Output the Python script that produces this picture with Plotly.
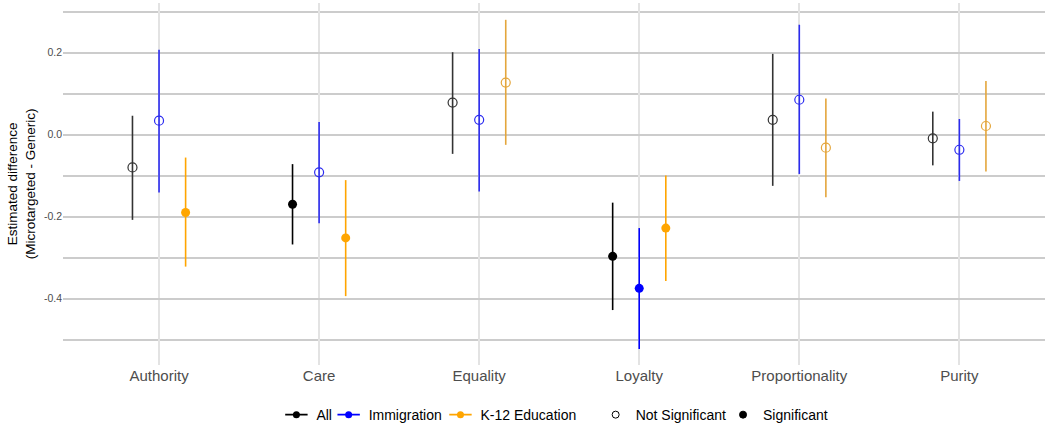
import plotly.graph_objects as go

categories = ["Authority", "Care", "Equality", "Loyalty", "Proportionality", "Purity"]
series = ["All", "Immigration", "K-12 Education"]

est_all = [-0.080, -0.170, 0.078, -0.297, 0.036, -0.009]
lo_all = [-0.208, -0.268, -0.047, -0.428, -0.125, -0.075]
hi_all = [0.046, -0.072, 0.201, -0.166, 0.197, 0.056]
sig_all = [False, True, False, True, False, False]

est_imm = [0.034, -0.092, 0.036, -0.375, 0.085, -0.037]
lo_imm = [-0.141, -0.216, -0.139, -0.523, -0.096, -0.113]
hi_imm = [0.207, 0.031, 0.209, -0.228, 0.268, 0.038]
sig_imm = [False, False, False, True, False, False]

est_k12 = [-0.190, -0.252, 0.127, -0.228, -0.032, 0.021]
lo_k12 = [-0.322, -0.394, -0.025, -0.357, -0.153, -0.090]
hi_k12 = [-0.056, -0.111, 0.280, -0.100, 0.088, 0.131]
sig_k12 = [True, True, False, True, False, False]

y_ticks = [0.2, 0.0, -0.2, -0.4]
y_tick_text = ["0.2", "0.0", "-0.2", "-0.4"]

data = {
    "All": (est_all, lo_all, hi_all, sig_all),
    "Immigration": (est_imm, lo_imm, hi_imm, sig_imm),
    "K-12 Education": (est_k12, lo_k12, hi_k12, sig_k12),
}
colors_sig = {"All": "#000000", "Immigration": "#0000FF", "K-12 Education": "#FFA500"}
colors_ns = {"All": "#333333", "Immigration": "#2B2BF0", "K-12 Education": "#E4A63C"}
dodge = {"All": -0.166, "Immigration": 0.0, "K-12 Education": 0.166}

fig = go.Figure()
for s in series:
    est, lo, hi, sig = data[s]
    for flag in (False, True):
        idx = [i for i in range(len(categories)) if sig[i] == flag]
        if not idx:
            continue
        col = colors_sig[s] if flag else colors_ns[s]
        fig.add_trace(go.Scatter(
            x=[i + dodge[s] for i in idx],
            y=[est[i] for i in idx],
            mode="markers",
            marker=dict(
                symbol="circle" if flag else "circle-open",
                size=9,
                color=col,
                line=dict(width=0 if flag else 1.2, color=col),
            ),
            error_y=dict(
                type="data", symmetric=False,
                array=[hi[i] - est[i] for i in idx],
                arrayminus=[est[i] - lo[i] for i in idx],
                width=0, thickness=1.6, color=col,
            ),
            showlegend=False, hoverinfo="skip",
        ))

# legend entries, each in its own legend box for precise placement
legend_x = {"All": 0.2645, "Immigration": 0.3145, "K-12 Education": 0.4215,
            "Not Significant": 0.5700, "Significant": 0.6919}
legend_ids = {"All": "legend", "Immigration": "legend2", "K-12 Education": "legend3",
              "Not Significant": "legend4", "Significant": "legend5"}
dot_ids = {"All": "legend6", "Immigration": "legend7", "K-12 Education": "legend8"}

for s in series:
    # short horizontal line symbol with the label
    fig.add_trace(go.Scatter(
        x=[None], y=[None], mode="markers", name=s,
        marker=dict(symbol="line-ew", size=16, color=colors_sig[s],
                    line=dict(width=1.6, color=colors_sig[s])),
        legend=legend_ids[s],
    ))
    # dot overlaid on the same spot
    fig.add_trace(go.Scatter(
        x=[None], y=[None], mode="markers", name=" ",
        marker=dict(symbol="circle", size=7, color=colors_sig[s]),
        legend=dot_ids[s],
    ))
for name, sym in (("Not Significant", "circle-open"), ("Significant", "circle")):
    fig.add_trace(go.Scatter(
        x=[None], y=[None], mode="markers", name=name,
        marker=dict(color="black", symbol=sym, size=7, line=dict(width=1, color="black")),
        legend=legend_ids[name],
    ))

fig.add_annotation(
    text="Estimated difference<br>(Microtargeted - Generic)",
    xref="paper", yref="paper", x=-0.0425, y=0.5,
    xanchor="center", yanchor="middle", textangle=-90, showarrow=False,
    font=dict(size=13.5, color="black"),
)

legend_layout = {}
for name, lid in legend_ids.items():
    legend_layout[lid] = dict(
        orientation="h", xref="container", yref="container",
        x=legend_x[name], xanchor="left", y=0.028, yanchor="middle",
        font=dict(size=14, color="black"), itemwidth=30, bgcolor="rgba(0,0,0,0)",
    )
for name, lid in dot_ids.items():
    legend_layout[lid] = dict(
        orientation="h", xref="container", yref="container",
        x=legend_x[name], xanchor="left", y=0.028, yanchor="middle",
        font=dict(size=14, color="black"), itemwidth=30, bgcolor="rgba(0,0,0,0)",
    )

fig.update_layout(
    width=1045, height=427,
    margin=dict(l=63, r=0, t=3, b=62),
    paper_bgcolor="white", plot_bgcolor="white",
    font=dict(family="Liberation Sans, Arial, sans-serif", color="#4D4D4D"),
    xaxis=dict(
        range=[-0.6, 5.535], automargin=False,
        tickmode="array", tickvals=list(range(len(categories))), ticktext=categories,
        showgrid=True, gridcolor="#E3E3E3", gridwidth=2,
        zeroline=False, showline=False, ticks="",
        tickfont=dict(size=15, color="#4D4D4D"),
    ),
    yaxis=dict(
        range=[-0.562, 0.321], automargin=False,
        tickmode="array", tickvals=y_ticks, ticktext=y_tick_text,
        showgrid=True, gridcolor="#CCCCCC", gridwidth=1.5,
        minor=dict(tickmode="array", tickvals=[0.3, 0.1, -0.1, -0.3, -0.5],
                   showgrid=True, gridcolor="#CCCCCC", gridwidth=1.5),
        zeroline=False, showline=False, ticks="",
        tickfont=dict(size=10.5, color="#4D4D4D"),
    ),
    **legend_layout,
)

fig.write_html(
    "out.html",
    config={"displayModeBar": False},
    post_script="document.body.style.margin='0';document.body.style.overflow='hidden';",
)
